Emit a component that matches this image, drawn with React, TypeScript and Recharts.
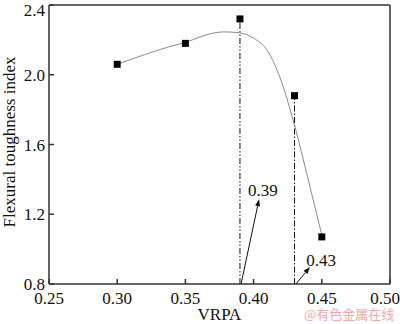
import {
  ComposedChart, Line, Scatter, XAxis, YAxis, ReferenceLine, ReferenceDot,
} from 'recharts';

// measured points
const vrpa = [0.30, 0.35, 0.39, 0.43, 0.45];
const toughness = [2.06, 2.18, 2.32, 1.88, 1.07];

// fitted curve
const curveX = [0.30, 0.32, 0.34, 0.35, 0.36, 0.37, 0.378, 0.39, 0.40, 0.41, 0.42, 0.43, 0.44, 0.45];
const curveY = [2.06, 2.115, 2.165, 2.185, 2.215, 2.238, 2.246, 2.24, 2.21, 2.14, 1.97, 1.71, 1.40, 1.08];

const xTicks = [0.25, 0.30, 0.35, 0.40, 0.45, 0.50];
const yTicks = [0.8, 1.2, 1.6, 2.0, 2.4];

// vertical marker lines: x, top y, dash pattern
const markerX = [0.39, 0.43];
const markerTop = [2.32, 1.88];
const markerDash = ['6 2 1.5 2 1.5 2', '6 2 1.5 2'];

// annotation arrows: start (x,y) -> tip (x,y), label at (x,y)
const arrowFrom = [[0.3908, 0.8], [0.431, 0.8]];
const arrowTo = [[0.404, 1.286], [0.4413, 0.897]];
const noteText = ['0.39', '0.43'];
const notePos = [[0.4068, 1.34], [0.4495, 0.94]];

const points = vrpa.map((x, i) => ({ x, y: toughness[i] }));
const curve = curveX.map((x, i) => ({ x, y: curveY[i] }));

const FONT = '"Liberation Serif", "Times New Roman", serif';
const tickStyle = { fill: '#111', fontSize: 17, fontFamily: FONT };

function Arrow(props: any) {
  const { x1, y1, x2, y2 } = props;
  if ([x1, y1, x2, y2].some((v) => v == null || isNaN(v))) return <g />;
  const ang = Math.atan2(y2 - y1, x2 - x1);
  const len = 7;
  const w = 2.5;
  const bx = x2 - len * Math.cos(ang);
  const by = y2 - len * Math.sin(ang);
  const px = -Math.sin(ang) * w;
  const py = Math.cos(ang) * w;
  return (
    <g>
      <line x1={x1} y1={y1} x2={bx} y2={by} stroke="#111" strokeWidth={1} />
      <polygon points={`${x2},${y2} ${bx + px},${by + py} ${bx - px},${by - py}`} fill="#111" />
    </g>
  );
}

export default function App() {
  return (
    <div style={{ position: 'fixed', left: 0, top: 0, width: 400, height: 324, background: '#fff' }}>
      <ComposedChart
        width={400}
        height={324}
        margin={{ top: 5, right: 10, left: 0, bottom: 0 }}
        style={{ fontFamily: FONT }}
      >
        <XAxis
          type="number"
          dataKey="x"
          domain={[0.25, 0.5]}
          ticks={xTicks}
          tickFormatter={(v: number) => v.toFixed(2)}
          tick={tickStyle}
          tickSize={-5}
          tickMargin={13}
          height={40}
          stroke="#333"
          strokeWidth={1.5}
          allowDataOverflow
          label={{ value: 'VRPA', position: 'insideBottom', offset: 4, fill: '#111', fontSize: 17, fontFamily: FONT }}
        />
        <YAxis
          type="number"
          dataKey="y"
          domain={[0.8, 2.4]}
          ticks={yTicks}
          tickFormatter={(v: number) => v.toFixed(1)}
          tick={tickStyle}
          tickSize={-5}
          tickMargin={9}
          width={49}
          stroke="#333"
          strokeWidth={1.5}
          allowDataOverflow
          label={{
            content: () => (
              <text
                x={0}
                y={0}
                transform="translate(15, 142) rotate(-90)"
                textAnchor="middle"
                fill="#111"
                fontSize={17}
                fontFamily={FONT}
              >
                Flexural toughness index
              </text>
            ),
          }}
        />

        {/* frame top and right */}
        <ReferenceLine y={2.4} stroke="#333" strokeWidth={1.5} />
        <ReferenceLine x={0.5} stroke="#333" strokeWidth={1.5} />

        {markerX.map((x, i) => (
          <ReferenceLine
            key={'m' + i}
            segment={[{ x, y: 0.8 }, { x, y: markerTop[i] }]}
            stroke="#111"
            strokeWidth={1}
            strokeDasharray={markerDash[i]}
          />
        ))}

        <Line
          data={curve}
          dataKey="y"
          type="monotone"
          stroke="#8a8a8a"
          strokeWidth={1}
          dot={false}
          activeDot={false}
          isAnimationActive={false}
        />
        <Scatter
          data={points}
          dataKey="y"
          fill="#000"
          isAnimationActive={false}
          shape={(p: any) => (
            <rect x={p.cx - 3.5} y={p.cy - 3.5} width={7} height={7} fill="#000" />
          )}
        />

        {arrowFrom.map((a, i) => (
          <ReferenceLine
            key={'a' + i}
            segment={[{ x: a[0], y: a[1] }, { x: arrowTo[i][0], y: arrowTo[i][1] }]}
            shape={(p: any) => <Arrow {...p} />}
          />
        ))}
        {notePos.map((n, i) => (
          <ReferenceDot
            key={'n' + i}
            x={n[0]}
            y={n[1]}
            r={0}
            shape={(p: any) => (
              <text
                x={p.cx}
                y={p.cy + 6}
                textAnchor="middle"
                fill="#111"
                fontSize={17}
                fontFamily={FONT}
              >
                {noteText[i]}
              </text>
            )}
          />
        ))}
      </ComposedChart>
      <div
        style={{
          position: 'absolute',
          left: 304,
          top: 307,
          color: '#f2a8a8',
          fontSize: 13,
          lineHeight: '13px',
          fontFamily: '"Noto Sans CJK SC", sans-serif',
          whiteSpace: 'nowrap',
        }}
      >
        @有色金属在线
      </div>
    </div>
  );
}
